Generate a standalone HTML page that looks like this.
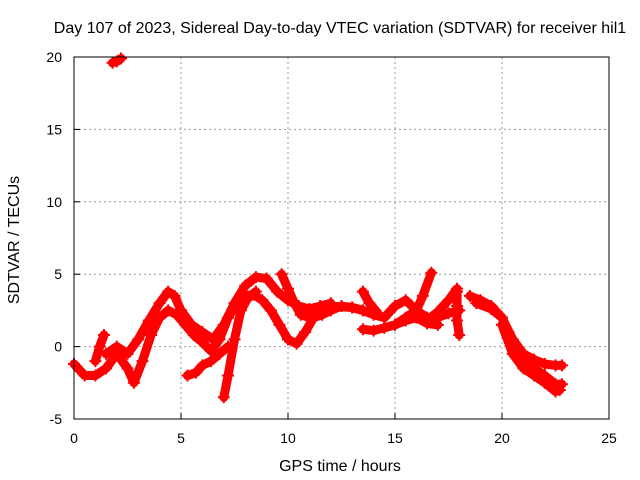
<!DOCTYPE html>
<html><head><meta charset="utf-8"><style>
body{margin:0;background:#fff;}
svg{display:block;font-family:"Liberation Sans",sans-serif;}
</style></head><body>
<svg id="c" width="640" height="480">
<text x="340" y="33" text-anchor="middle" font-size="16">Day 107 of 2023, Sidereal Day-to-day VTEC variation (SDTVAR) for receiver hil1</text>
<text x="340" y="471" text-anchor="middle" font-size="16">GPS time / hours</text>
<text transform="translate(19,240) rotate(-90)" text-anchor="middle" font-size="16">SDTVAR / TECUs</text>
<g id="grid"></g><g id="marks"></g>
<rect x="74" y="57" width="535" height="362" fill="none" stroke="#000" stroke-width="1"/>
<g id="ticks"></g>
</svg>
<script>
const xTicks=[0,5,10,15,20,25];
const yTicks=[-5,0,5,10,15,20];
const t1=[0,0.5,1,1.5,2,2.5,2.8,3.2,3.6,4,4.4,4.8,5.2,5.6,6,6.4,6.8,7.2,7.6,8,8.4,8.8,9.2,9.6,10,10.4,10.8,11.2,11.6,12,12.5,13,13.5];
const v1=[-1.2,-2,-2,-1.5,-0.5,-1.5,-2.5,-1,0.8,2,2.5,2.2,1.5,0.8,0.3,-0.3,0.5,2,3,3.5,3.6,3.2,2.5,1.5,0.5,0.2,1,2,2.2,2.5,2.8,2.7,2.5];
const t2=[1.5,2,2.5,3,3.5,4,4.4,4.7,5,5.5,6,6.5,7,7.5,8,8.5,9,9.5,10,10.5,11,11.5,12];
const v2=[-0.5,0,-0.5,0.5,1.8,3,3.8,3.5,2.5,1.5,1,0.5,1.5,3,4.2,4.8,4.7,3.8,3.2,2.8,2.6,2.8,3];
const t3=[7,7.2,7.5,7.8,8.1,8.5];const v3=[-3.5,-2,0.5,2.5,3.3,3.8];
const t4=[5.3,5.7,6,6.4,6.8,7.2];const v4=[-2,-1.8,-1.3,-1,-0.5,0];
const t5=[1,1.2,1.4];const v5=[-1,0,0.8];
const t6=[9.7,10,10.3,10.6,11,11.5];const v6=[5,4,3,2.2,2,2.5];
const t7=[12,13,13.5,14,14.5,15,15.5,16,16.5,17,17.5,18];const v7=[2.8,2.7,2.5,2.2,2,2.8,3.2,2.5,2,2,2.3,2.5];
const t8=[13.5,14,14.5,15,15.5,16,16.5,17];const v8=[1.2,1.1,1.3,1.5,1.8,2,1.6,1.5];
const t9=[15,15.5,16,16.3,16.7];const v9=[1.5,2,2.5,3.5,5.1];
const t10=[13.5,13.8,14.2];const v10=[3.8,3,2.3];
const t11=[16.5,17,17.5,17.9];const v11=[1.8,2.4,3.2,4.0];
const t12=[17.9,17.9,17.9,18];const v12=[3.8,2.8,1.8,0.8];
const t13=[18.5,19,19.5,20,20.3,20.6,21,21.5,22,22.5,22.8];const v13=[3.5,3.2,2.8,2,1,0,-0.8,-1.5,-2,-2.6,-2.6];
const t14=[18.8,19.5,20,20.5,21,21.5,22,22.5,22.8];const v14=[3,2.6,2,0.5,-0.5,-0.9,-1.2,-1.3,-1.3];
const t15=[20,20.5,21,21.5,22,22.5,22.7];const v15=[1.5,-0.5,-1.5,-2,-2.5,-3.1,-3];
const t16=[1.8,2,2.2];const v16=[19.6,19.7,19.9];
const series=[[t1,v1],[t2,v2],[t3,v3],[t4,v4],[t5,v5],[t6,v6],[t7,v7],[t8,v8],[t9,v9],[t10,v10],[t11,v11],[t12,v12],[t13,v13],[t14,v14],[t15,v15],[t16,v16]];
const X=t=>74+t*535/25, Y=v=>419-(v+5)*362/25;
const NS="http://www.w3.org/2000/svg";
const grid=document.getElementById('grid'),ticks=document.getElementById('ticks'),marks=document.getElementById('marks');
function mk(tag,at,p){const e=document.createElementNS(NS,tag);for(const k in at)e.setAttribute(k,at[k]);p.appendChild(e);return e;}
xTicks.forEach(t=>{
 if(t>0&&t<25){const g=mk('line',{x1:X(t),x2:X(t),y1:57,y2:419,stroke:'#999','stroke-dasharray':'2,3'},grid);
 
 }
 const a=mk('line',{x1:X(t),x2:X(t),y1:419,y2:413,stroke:'#000'},ticks);
 
 
 const l=mk('text',{x:X(t),y:443,'text-anchor':'middle','font-size':14},ticks);l.textContent=t;
 
 
});
yTicks.forEach(v=>{
 if(v>-5&&v<20){const g=mk('line',{x1:74,x2:609,y1:Y(v),y2:Y(v),stroke:'#999','stroke-dasharray':'2,3'},grid);
 
 }
 const a=mk('line',{x1:74,x2:80,y1:Y(v),y2:Y(v),stroke:'#000'},ticks);
 
 
 const l=mk('text',{x:62,y:Y(v)+5,'text-anchor':'end','font-size':14},ticks);l.textContent=v;
 
 
});
series.forEach(([ts,vs])=>{
 const pts=ts.map((t,i)=>X(t)+','+Y(vs[i])).join(' ');
 const p=mk('polyline',{points:pts,fill:'none',stroke:'#f00','stroke-width':9,'stroke-linejoin':'round','stroke-linecap':'round'},marks);
 
 
 ts.forEach((t,i)=>{
  const x=X(t),y=Y(vs[i]);
  const m=mk('path',{d:`M${x-6},${y}h12M${x},${y-6}v12`,stroke:'#f00','stroke-width':2},marks);
  
  
 });
});
</script>
</body></html>
